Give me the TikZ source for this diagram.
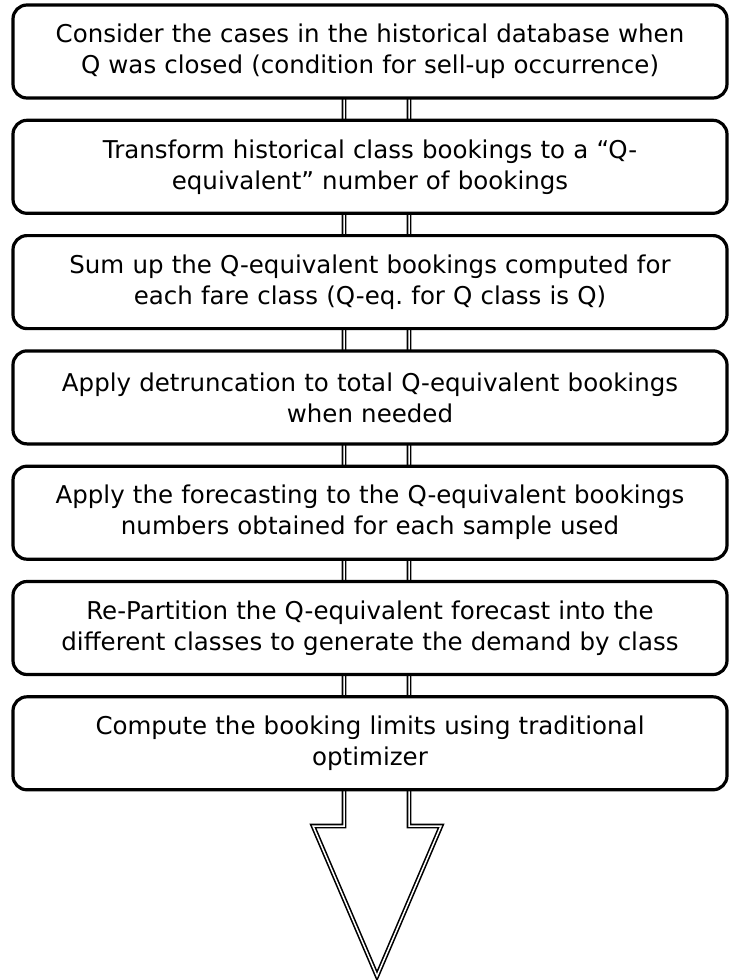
\documentclass[tikz,border=0pt]{standalone}
\usepackage{fontspec}
\setmainfont{DejaVu Sans}
\frenchspacing
\begin{document}
\begin{tikzpicture}[x=1pt,y=-1pt,
  stepbox/.style={draw, line width=3.2pt, rounded corners=14pt, fill=white,
    minimum width=714pt, minimum height=93pt, text width=700pt, align=center,
    inner sep=0pt, font=\fontsize{24.5}{31}\selectfont},
  hollow/.style={draw, line width=1.6pt, double distance=1.5pt, line join=miter}]
\useasboundingbox (0,0) rectangle (729,980);
% big hollow arrow running behind the steps
\draw[hollow] (344,40) -- (344,826) -- (313,826) -- (377,976) -- (441,826)
  -- (409,826) -- (409,40);
% process steps
\node[stepbox] (b1) at (370,51.5) {Consider the cases in the historical database when\\Q was closed (condition for sell-up occurrence)};
\node[stepbox] (b2) at (370,166.8) {Transform historical class bookings to a “Q-\\equivalent” number of bookings};
\node[stepbox] (b3) at (370,282.1) {Sum up the Q-equivalent bookings computed for\\each fare class (Q-eq. for Q class is Q)};
\node[stepbox] (b4) at (370,397.4) {Apply detruncation to total Q-equivalent bookings\\when needed};
\node[stepbox] (b5) at (370,512.7) {Apply the forecasting to the Q-equivalent bookings\\numbers obtained for each sample used};
\node[stepbox] (b6) at (370,628.0) {Re-Partition the Q-equivalent forecast into the\\different classes to generate the demand by class};
\node[stepbox] (b7) at (370,743.3) {Compute the booking limits using traditional\\optimizer};
\end{tikzpicture}
\end{document}
